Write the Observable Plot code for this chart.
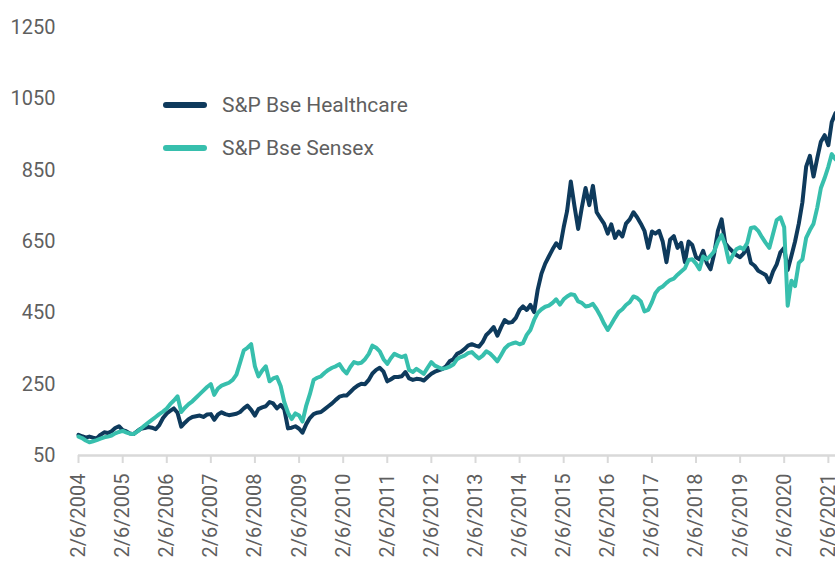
<!DOCTYPE html>
<html><head><meta charset="utf-8">
<script src="https://cdn.jsdelivr.net/npm/d3@7"></script>
<script src="https://cdn.jsdelivr.net/npm/@observablehq/plot@0.6"></script>
<style>
body{margin:0;background:#fff;font-family:Roboto,"Noto Sans",sans-serif;}
#wrap{position:relative;width:835px;height:562px;overflow:hidden;}
.legend{position:absolute;left:163px;top:83px;color:#5f5f5f;font-size:21px;}
.item{display:flex;align-items:center;height:43.5px;}
.swatch{display:inline-block;width:44px;height:6px;border-radius:3px;margin-right:15px;}
</style></head>
<body><div id="wrap"></div>
<script>
// monthly series starting 2/6/2004
const startYear = 2004, startMonth = 1, startDay = 6;
const healthcare = [
108,104,100,103,100,98,108,115,113,118,127,132,121,118,112,110,118,125,127,130,
128,124,135,155,168,175,182,170,131,142,152,158,160,162,158,165,166,150,165,171,
166,163,165,167,172,182,190,178,162,180,185,188,200,196,182,192,180,126,128,132,
125,114,138,155,166,170,172,180,188,196,206,215,218,218,228,238,246,251,250,262,
280,290,296,285,258,263,270,270,272,284,266,262,265,264,260,270,279,285,289,292,
300,314,320,335,340,348,358,362,358,355,368,388,398,410,386,410,430,422,424,436,
458,468,458,472,452,515,560,588,608,628,645,632,690,735,818,750,685,745,800,752,
806,732,716,700,672,698,660,678,664,700,712,732,718,700,680,632,678,672,680,650,
592,655,665,632,646,592,650,640,606,600,624,590,572,615,680,712,645,632,622,612,
606,616,634,590,582,568,562,556,536,566,586,620,632,570,610,650,700,760,860,890,
832,884,930,948,920,985,1010
];
const sensex = [
103,99,92,87,90,93,97,101,103,106,112,116,119,115,111,110,117,125,134,142,
150,158,166,173,182,194,204,216,172,184,194,202,212,222,232,242,250,220,238,246,
250,254,262,277,310,345,352,362,300,272,288,300,258,266,270,245,200,170,152,168,
162,145,190,222,262,268,272,282,290,296,300,306,290,280,298,312,308,310,320,335,
358,352,342,320,307,322,335,330,326,330,290,284,293,286,279,296,312,302,297,293,
295,299,305,320,326,330,337,340,330,322,330,342,336,326,314,332,350,360,364,367,
362,365,388,402,430,450,460,467,470,478,488,473,488,496,502,500,482,478,468,470,
475,460,442,420,402,418,436,452,460,472,480,496,492,482,454,458,480,505,518,524,
534,542,546,557,566,575,598,600,588,572,608,600,610,622,650,668,640,592,610,628,
634,628,646,688,690,680,662,646,632,672,710,718,690,470,540,525,590,600,660,682,
700,745,800,828,860,895,880
];
const seriesNames = ["S&P Bse Healthcare", "S&P Bse Sensex"];
const seriesColors = ["#0e3a5c", "#37bfad"];
const tickYears = d3.range(2004, 2022);
const yTicks = [50, 250, 450, 650, 850, 1050, 1250];

const t0 = new Date(Date.UTC(startYear, startMonth, startDay));
const rows = [];
[healthcare, sensex].forEach((arr, i) => arr.forEach((v, m) =>
  rows.push({date: d3.utcMonth.offset(t0, m), value: v, series: seriesNames[i]})));
const tEnd = d3.utcMonth.offset(t0, healthcare.length - 1);
const xTicks = tickYears.map(y => new Date(Date.UTC(y, startMonth, startDay)));

const chart = Plot.plot({
  width: 835, height: 562,
  marginLeft: 78, marginRight: 0, marginTop: 27, marginBottom: 107,
  style: {fontFamily: "Roboto, 'Noto Sans', sans-serif", fontSize: "20px", color: "#5f5f5f", background: "#fff"},
  x: {type: "utc", domain: [t0, tEnd]},
  y: {domain: [50, 1250]},
  color: {domain: seriesNames, range: seriesColors},
  marks: [
    Plot.ruleY([50], {stroke: "#d9d9d9", strokeWidth: 2.5}),
    Plot.axisX({ticks: xTicks, tickFormat: d => `${d.getUTCMonth()+1}/${d.getUTCDate()}/${d.getUTCFullYear()}`,
      tickRotate: -90, tickSize: 8, tickPadding: 10, stroke: "#d9d9d9", strokeWidth: 2, fill: "#5f5f5f", label: null}),
    Plot.axisY({ticks: yTicks, tickSize: 0, tickPadding: 23, fill: "#5f5f5f", label: null, tickFormat: d => String(d)}),
    Plot.line(rows, {x: "date", y: "value", z: "series", stroke: "series", strokeWidth: 4, strokeLinejoin: "round"})
  ]
});
const wrap = document.getElementById("wrap");
wrap.appendChild(chart);
const leg = document.createElement("div");
leg.className = "legend";
seriesNames.forEach((n, i) => {
  const it = document.createElement("div"); it.className = "item";
  const sw = document.createElement("span"); sw.className = "swatch"; sw.style.background = seriesColors[i];
  const tx = document.createElement("span"); tx.textContent = n;
  it.appendChild(sw); it.appendChild(tx); leg.appendChild(it);
});
wrap.appendChild(leg);
</script>
</body></html>
